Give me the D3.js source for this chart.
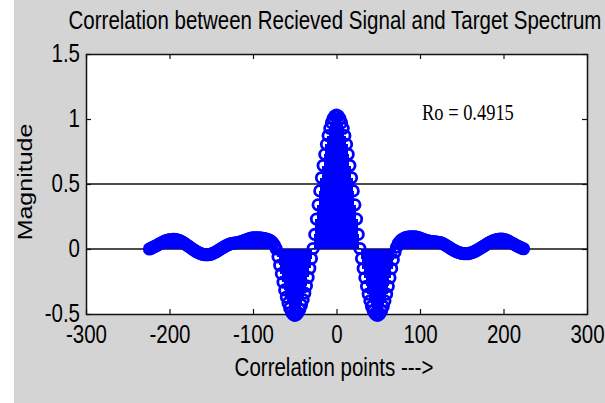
<!DOCTYPE html>
<html>
<head>
<meta charset="utf-8">
<script src="https://cdn.jsdelivr.net/npm/d3@7"></script>
<style>
  html, body { margin: 0; padding: 0; background: #ffffff; }
  svg { display: block; }
</style>
</head>
<body>
<svg id="chart" width="605" height="403"></svg>
<script>
// ---- chart content -------------------------------------------------------
const titleText = "Correlation between Recieved Signal and Target Spectrum";
const xLabelText = "Correlation points --->";
const yLabelText = "Magnitude";
const annotationText = "Ro = 0.4915";
const thresholdLevel = 0.5;

const xTicks = [-300, -200, -100, 0, 100, 200, 300];
const xTickLabels = ["-300", "-200", "-100", "0", "100", "200", "300"];
const yTicks = [-0.5, 0, 0.5, 1, 1.5];
const yTickLabels = ["-0.5", "0", "0.5", "1", "1.5"];

// correlation lags (every second lag from -224 to 224)
const lags = d3.range(-224, 225, 2);

// correlation magnitude at each lag
const correlation = [
  0.000, 0.006, 0.012, 0.018, 0.025, 0.032, 0.039, 0.046, 0.053, 0.059,
  0.064, 0.068, 0.071, 0.073, 0.074, 0.074, 0.072, 0.069, 0.064, 0.058,
  0.051, 0.043, 0.034, 0.025, 0.016, 0.007, -0.002, -0.011, -0.019, -0.026,
  -0.032, -0.037, -0.041, -0.043, -0.044, -0.044, -0.042, -0.039, -0.034, -0.028,
  -0.021, -0.013, -0.005, 0.003, 0.011, 0.019, 0.026, 0.032, 0.037, 0.041,
  0.044, 0.046, 0.048, 0.050, 0.053, 0.057, 0.061, 0.066, 0.071, 0.076,
  0.080, 0.083, 0.085, 0.086, 0.086, 0.086, 0.085, 0.084, 0.082, 0.080,
  0.077, 0.073, 0.067, 0.058, 0.044, 0.025,
  0.000, -0.060, -0.125, -0.190, -0.255, -0.315, -0.370, -0.415, -0.455, -0.485,
  -0.503, -0.510, -0.505, -0.490, -0.465, -0.430, -0.390, -0.340, -0.283, -0.218,
  -0.148, -0.074, 0.004, 0.112, 0.230, 0.340, 0.447, 0.548, 0.642, 0.728,
  0.805, 0.872, 0.928, 0.972, 1.004, 1.023,
  1.030, 1.023, 1.004, 0.972, 0.928, 0.872, 0.805, 0.728, 0.642, 0.548,
  0.447, 0.340, 0.230, 0.112, 0.004, -0.074, -0.150, -0.221, -0.287, -0.347,
  -0.399, -0.442, -0.475, -0.497, -0.509, -0.509, -0.497, -0.475, -0.442, -0.399,
  -0.347, -0.287, -0.221, -0.150, -0.082, -0.025, 0.015, 0.042, 0.059, 0.071,
  0.079, 0.085, 0.089, 0.091, 0.093, 0.094, 0.094, 0.093, 0.091, 0.088,
  0.084, 0.079, 0.074, 0.069, 0.065, 0.062, 0.059, 0.057, 0.056, 0.055,
  0.054, 0.052, 0.049, 0.045, 0.039, 0.032, 0.024, 0.016, 0.008, 0.000,
  -0.008, -0.015, -0.021, -0.026, -0.030, -0.033, -0.035, -0.036, -0.036, -0.035,
  -0.032, -0.028, -0.023, -0.017, -0.010, -0.003, 0.005, 0.013, 0.021, 0.029,
  0.037, 0.045, 0.052, 0.058, 0.064, 0.068, 0.072, 0.075, 0.076, 0.076,
  0.074, 0.071, 0.066, 0.060, 0.053, 0.046, 0.039, 0.032, 0.025, 0.019,
  0.013, 0.007, 0.002
];

// ---- layout & style ------------------------------------------------------
const W = 605, H = 403;
const plot = { left: 86, right: 587, top: 54, bottom: 314 };
const SANS = "'Liberation Sans', Arial, Helvetica, sans-serif";
const SERIF = "'Liberation Serif', 'Times New Roman', serif";
const SQUEEZE = 0.82;          // condensed look of the figure text
const FONT_SIZE = 25;
const STEM_BLUE = "#0000ff";
const INK = "#111111";

const svg = d3.select("#chart");

// figure background
svg.append("rect").attr("x", 0).attr("y", 0).attr("width", W).attr("height", H).attr("fill", "#ffffff");
svg.append("rect").attr("x", 14).attr("y", 0).attr("width", W - 14).attr("height", H).attr("fill", "#d4d4d4");

// axes background
svg.append("rect")
  .attr("x", plot.left).attr("y", plot.top)
  .attr("width", plot.right - plot.left).attr("height", plot.bottom - plot.top)
  .attr("fill", "#ffffff");

const x = d3.scaleLinear().domain([-300, 300]).range([plot.left, plot.right]);
const y = d3.scaleLinear().domain([-0.5, 1.5]).range([plot.bottom, plot.top]);

function squeezed(parent, px, py, str, opts = {}) {
  return parent.append("text")
    .attr("transform", `translate(${px},${py}) scale(${SQUEEZE},1)` + (opts.rotate ? ` rotate(${opts.rotate})` : ""))
    .attr("text-anchor", opts.anchor || "middle")
    .style("font-family", opts.family || SANS)
    .style("font-size", (opts.size || FONT_SIZE) + "px")
    .attr("fill", "#000")
    .text(str);
}

// reference lines: threshold and stem baseline
svg.append("line")
  .attr("x1", x(-300)).attr("x2", x(300))
  .attr("y1", y(thresholdLevel)).attr("y2", y(thresholdLevel))
  .attr("stroke", INK).attr("stroke-width", 1.5);
svg.append("line")
  .attr("x1", x(-300)).attr("x2", x(300))
  .attr("y1", y(0)).attr("y2", y(0))
  .attr("stroke", INK).attr("stroke-width", 1.5);

// axes with inward ticks on all four sides
function styleAxis(g) {
  g.select(".domain").remove();
  g.selectAll(".tick line").attr("stroke", INK).attr("stroke-width", 1.2);
}
const gx = svg.append("g").attr("transform", `translate(0,${plot.bottom})`)
  .call(d3.axisBottom(x).tickValues(xTicks).tickSize(-5).tickSizeOuter(0)
    .tickFormat((d, i) => xTickLabels[i]))
  .call(styleAxis);
gx.selectAll("text")
  .attr("y", null).attr("dy", null)
  .attr("transform", `translate(0,29) scale(${SQUEEZE},1)`)
  .attr("fill", "#000")
  .style("font-family", SANS).style("font-size", FONT_SIZE + "px");

svg.append("g").attr("transform", `translate(0,${plot.top})`)
  .call(d3.axisTop(x).tickValues(xTicks).tickSize(-5).tickSizeOuter(0).tickFormat(""))
  .call(styleAxis);

const gy = svg.append("g").attr("transform", `translate(${plot.left},0)`)
  .call(d3.axisLeft(y).tickValues(yTicks).tickSize(-5).tickSizeOuter(0)
    .tickFormat((d, i) => yTickLabels[i]))
  .call(styleAxis);
gy.selectAll("text")
  .attr("x", null).attr("dy", null)
  .attr("text-anchor", "end")
  .attr("transform", `translate(-6,7) scale(${SQUEEZE},1)`)
  .attr("fill", "#000")
  .style("font-family", SANS).style("font-size", FONT_SIZE + "px");

svg.append("g").attr("transform", `translate(${plot.right},0)`)
  .call(d3.axisRight(y).tickValues(yTicks).tickSize(-5).tickSizeOuter(0).tickFormat(""))
  .call(styleAxis);

// axes box
svg.append("rect")
  .attr("x", plot.left + 0.5).attr("y", plot.top + 0.5)
  .attr("width", plot.right - plot.left).attr("height", plot.bottom - plot.top)
  .attr("fill", "none").attr("stroke", INK).attr("stroke-width", 1.5);

// stem plot: dense stems with open circle markers
const series = lags.map((lag, i) => ({ lag, value: correlation[i] }));
const stems = svg.append("g");
stems.append("g").selectAll("line").data(series).join("line")
  .attr("x1", d => x(d.lag)).attr("x2", d => x(d.lag))
  .attr("y1", y(0)).attr("y2", d => y(d.value))
  .attr("stroke", STEM_BLUE).attr("stroke-width", 2)
  .attr("shape-rendering", "crispEdges");
stems.append("g").selectAll("circle").data(series).join("circle")
  .attr("cx", d => x(d.lag)).attr("cy", d => y(d.value))
  .attr("r", 5.2)
  .attr("fill", "none")
  .attr("stroke", STEM_BLUE).attr("stroke-width", 2.8);

// annotation
squeezed(svg, 422, 120, annotationText, { anchor: "start", family: SERIF, size: 22.5 });

// titles
squeezed(svg, 335, 29, titleText);
squeezed(svg, 334, 376, xLabelText);
squeezed(svg, 32, 182, yLabelText, { rotate: -90 });
</script>
</body>
</html>
